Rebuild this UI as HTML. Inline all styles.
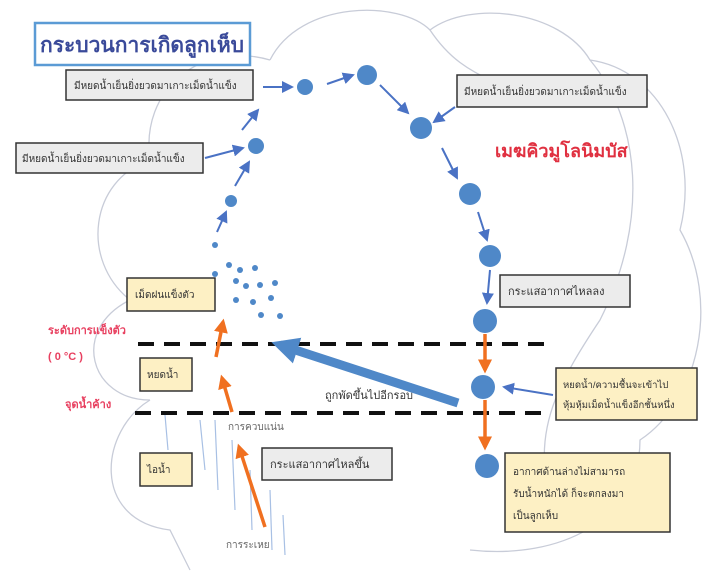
<!DOCTYPE html>
<html><head><meta charset="utf-8"><style>
body{margin:0;background:#fff}
svg{display:block;font-family:"Liberation Sans","Noto Sans CJK SC",sans-serif}
</style></head><body>
<svg width="705" height="578" viewBox="0 0 705 578" xmlns="http://www.w3.org/2000/svg">
<defs>
<marker id="b" markerWidth="6" markerHeight="6" refX="5" refY="3" orient="auto"><path d="M0,0L6,3L0,6z" fill="#4a72c4"/></marker>
<marker id="o" markerWidth="4" markerHeight="4" refX="3" refY="2" orient="auto"><path d="M0,0L4,2L0,4z" fill="#f07020"/></marker>
<marker id="bb" markerWidth="3" markerHeight="3" refX="2" refY="1.5" orient="auto"><path d="M0,0L3,1.5L0,3z" fill="#4f88c8"/></marker>
</defs>
<g fill="none" stroke="#c8ccd8" stroke-width="1.3">
<path d="M270,60 C300,0 400,0 430,30 C470,0 560,10 590,60 C660,70 700,150 680,230 C720,300 700,400 640,440 C640,520 560,560 470,550"/>
<path d="M270,60 C200,40 140,90 150,160 C90,180 80,260 130,300 C70,330 90,400 150,400"/>
<path d="M150,400 C100,430 90,520 170,530 L190,570"/>
<path d="M590,60 C640,120 650,220 600,320 C560,380 540,420 545,470"/>
<path d="M430,30 C450,60 470,70 490,80"/>
</g>
<g stroke="#a8c0e4" stroke-width="1.2">
<line x1="165" y1="415" x2="168" y2="450"/><line x1="200" y1="420" x2="205" y2="470"/><line x1="215" y1="420" x2="218" y2="490"/><line x1="232" y1="440" x2="235" y2="510"/><line x1="250" y1="470" x2="252" y2="530"/><line x1="270" y1="490" x2="272" y2="550"/><line x1="283" y1="515" x2="285" y2="555"/>
</g>
<rect x="35" y="23" width="215" height="42" fill="#fff" stroke="#5b9bd5" stroke-width="2.5"/>
<text x="142" y="52" text-anchor="middle" font-size="21" font-weight="bold" fill="#3a4a9a">กระบวนการเกิดลูกเห็บ</text>
<g font-size="10" fill="#333">
<rect x="66" y="70" width="187" height="30" fill="#ececec" stroke="#333" stroke-width="1.5"/>
<text x="74" y="89">มีหยดน้ำเย็นยิ่งยวดมาเกาะเม็ดน้ำแข็ง</text>
<rect x="16" y="143" width="187" height="30" fill="#ececec" stroke="#333" stroke-width="1.5"/>
<text x="22" y="162">มีหยดน้ำเย็นยิ่งยวดมาเกาะเม็ดน้ำแข็ง</text>
<rect x="457" y="75" width="190" height="32" fill="#ececec" stroke="#333" stroke-width="1.5"/>
<text x="464" y="95">มีหยดน้ำเย็นยิ่งยวดมาเกาะเม็ดน้ำแข็ง</text>
<rect x="500" y="275" width="130" height="32" fill="#ececec" stroke="#333" stroke-width="1.5"/>
<text x="508" y="295" font-size="11">กระแสอากาศไหลลง</text>
<rect x="262" y="448" width="130" height="32" fill="#ececec" stroke="#333" stroke-width="1.5"/>
<text x="270" y="468" font-size="11">กระแสอากาศไหลขึ้น</text>
<rect x="127" y="278" width="88" height="33" fill="#fdf0c4" stroke="#333" stroke-width="1.5"/>
<text x="135" y="298">เม็ดฝนแข็งตัว</text>
<rect x="140" y="358" width="52" height="33" fill="#fdf0c4" stroke="#333" stroke-width="1.5"/>
<text x="147" y="378">หยดน้ำ</text>
<rect x="140" y="453" width="52" height="33" fill="#fdf0c4" stroke="#333" stroke-width="1.5"/>
<text x="147" y="473">ไอน้ำ</text>
<rect x="556" y="368" width="141" height="52" fill="#fdf0c4" stroke="#333" stroke-width="1.5"/>
<text x="563" y="388" font-size="9.5">หยดน้ำ/ความชื้นจะเข้าไป</text>
<text x="563" y="408" font-size="9.5">หุ้มหุ้มเม็ดน้ำแข็งอีกชั้นหนึ่ง</text>
<rect x="505" y="453" width="165" height="79" fill="#fdf0c4" stroke="#333" stroke-width="1.5"/>
<text x="513" y="475">อากาศด้านล่างไม่สามารถ</text>
<text x="513" y="497">รับน้ำหนักได้ ก็จะตกลงมา</text>
<text x="513" y="519">เป็นลูกเห็บ</text>
<text x="325" y="399" font-size="11">ถูกพัดขึ้นไปอีกรอบ</text>
<text x="228" y="430" font-size="10" fill="#666">การควบแน่น</text>
<text x="226" y="548" font-size="10" fill="#666">การระเหย</text>
</g>
<text x="495" y="157" font-size="18" font-weight="bold" fill="#e03040">เมฆคิวมูโลนิมบัส</text>
<g font-size="11" fill="#e84060" font-weight="bold">
<text x="48" y="334">ระดับการแข็งตัว</text>
<text x="48" y="360">( 0 °C )</text>
<text x="65" y="408">จุดน้ำค้าง</text>
</g>
<g stroke="#111" stroke-width="4" stroke-dasharray="16,10">
<line x1="138" y1="344" x2="552" y2="344"/>
<line x1="135" y1="413" x2="548" y2="413"/>
</g>
<g fill="#4f88c8">
<circle cx="305" cy="87" r="8"/><circle cx="367" cy="75" r="10"/><circle cx="421" cy="128" r="11"/><circle cx="470" cy="194" r="11"/><circle cx="490" cy="256" r="11"/><circle cx="485" cy="321" r="12"/><circle cx="483" cy="387" r="12"/><circle cx="487" cy="466" r="12"/><circle cx="256" cy="146" r="8"/><circle cx="231" cy="201" r="6"/><circle cx="215" cy="245" r="3"/>
<circle cx="229" cy="265" r="3"/><circle cx="240" cy="270" r="3"/><circle cx="255" cy="268" r="3"/><circle cx="236" cy="281" r="3"/><circle cx="246" cy="286" r="3"/><circle cx="260" cy="285" r="3"/><circle cx="275" cy="283" r="3"/><circle cx="236" cy="300" r="3"/><circle cx="253" cy="302" r="3"/><circle cx="271" cy="298" r="3"/><circle cx="261" cy="315" r="3"/><circle cx="280" cy="316" r="3"/><circle cx="215" cy="274" r="3"/>
</g>
<g stroke="#4a72c4" stroke-width="2" marker-end="url(#b)">
<line x1="263" y1="87" x2="292" y2="87"/><line x1="327" y1="84" x2="353" y2="75"/>
<line x1="380" y1="85" x2="408" y2="113"/><line x1="442" y1="148" x2="457" y2="178"/>
<line x1="478" y1="212" x2="487" y2="240"/><line x1="490" y1="270" x2="487" y2="303"/>
<line x1="455" y1="107" x2="434" y2="122"/>
<line x1="205" y1="158" x2="243" y2="148"/><line x1="242" y1="130" x2="258" y2="110"/>
<line x1="235" y1="186" x2="249" y2="162"/><line x1="217" y1="232" x2="226" y2="212"/>
<line x1="553" y1="395" x2="504" y2="387"/>
</g>
<line x1="458" y1="403" x2="280" y2="345" stroke="#4f88c8" stroke-width="9" marker-end="url(#bb)"/>
<g stroke="#f07020" stroke-width="3.5" marker-end="url(#o)">
<line x1="216" y1="357" x2="223" y2="322"/><line x1="232" y1="412" x2="222" y2="378"/>
<line x1="265" y1="527" x2="239" y2="447"/>
<line x1="485" y1="334" x2="485" y2="370"/><line x1="485" y1="400" x2="485" y2="447"/>
</g>
</svg>
</body></html>
